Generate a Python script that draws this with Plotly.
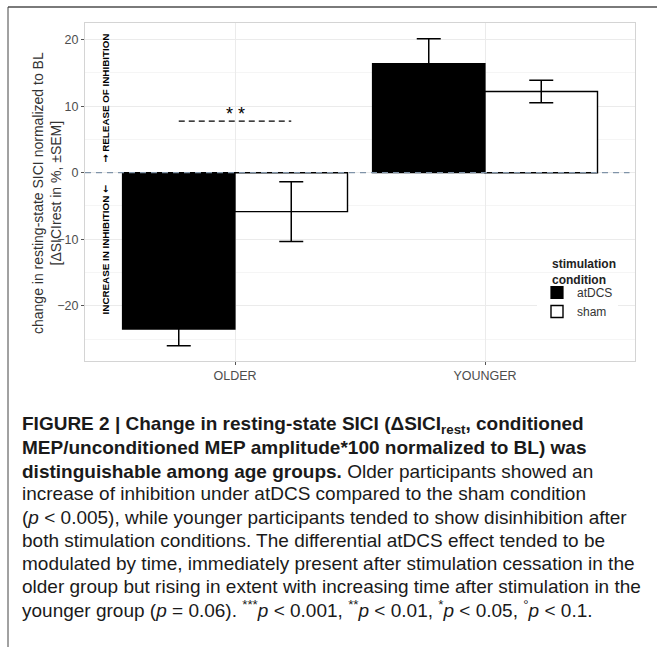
import plotly.graph_objects as go

# ---- data ----
groups = ["OLDER", "YOUNGER"]
conditions = ["atDCS", "sham"]
atdcs_mean = [-23.5, 16.4]
atdcs_sem = [2.5, 3.75]
sham_mean = [-5.85, 12.2]
sham_sem = [4.5, 1.7]
sig_label = "* *"
sig_y = 7.75
y_ticks = [-20, -10, 0, 10, 20]

W, H = 657, 647
L, R, T, B = 85, 22, 23, 286
PW = W - L - R
PH = H - T - B

def px_x(px):
    return (px - L) / PW

def px_y(py):
    return (H - B - py) / PH

FONT = "Liberation Sans, Arial, sans-serif"
ARROW = '<span style="font-family:DejaVu Sans">{}</span>'

fig = go.Figure()
fig.add_trace(go.Bar(
    x=groups, y=atdcs_mean, name=conditions[0],
    marker=dict(color="black", line=dict(color="black", width=1.2)),
    error_y=dict(type="data", array=atdcs_sem, visible=True, color="black", thickness=1.5, width=12),
))
fig.add_trace(go.Bar(
    x=groups, y=sham_mean, name=conditions[1],
    marker=dict(color="white", line=dict(color="black", width=1.4)),
    error_y=dict(type="data", array=sham_sem, visible=True, color="black", thickness=1.5, width=12),
))

fig.update_layout(
    width=W, height=H,
    margin=dict(l=L, r=R, t=T, b=B, pad=0),
    paper_bgcolor="white", plot_bgcolor="white",
    barmode="group", bargap=0.1, bargroupgap=0,
    font=dict(family=FONT, color="#333333"),
    showlegend=True,
    legend=dict(
        x=px_x(537), y=px_y(278), xanchor="left", yanchor="top",
        bgcolor="white", borderwidth=0, itemwidth=30,
        font=dict(size=12, color="#333"),
        tracegroupgap=0,
    ),
)

fig.update_xaxes(
    range=[-0.6, 1.6], showgrid=True, gridcolor="#ebebeb", gridwidth=1,
    showline=True, mirror=True, linecolor="#d4d4d4", linewidth=1,
    ticks="outside", ticklen=3, tickcolor="#555", tickfont=dict(size=12.5, color="#4d4d4d"),
    zeroline=False,
)
fig.update_yaxes(
    range=[-28.3, 22.5], tickvals=y_ticks, showgrid=True, gridcolor="#ebebeb", gridwidth=1,
    minor=dict(dtick=5, tick0=0, showgrid=True, gridcolor="#f5f5f5", gridwidth=0.6),
    showline=True, mirror=True, linecolor="#d4d4d4", linewidth=1,
    ticks="outside", ticklen=3, tickcolor="#555", tickfont=dict(size=12.5, color="#4d4d4d"),
    zeroline=False,
)

# y axis title (two lines)
fig.add_annotation(xref="paper", yref="paper", x=px_x(47), y=px_y(193), xanchor="center", yanchor="middle",
                   text="change in resting-state SICI normalized to BL<br>[ΔSICIrest in %, ±SEM]",
                   textangle=-90, showarrow=False, font=dict(size=14, color="#333", family=FONT))

# zero reference line
fig.add_shape(type="line", xref="paper", yref="y", x0=0, x1=0.99, y0=0, y1=0,
              line=dict(color="#7f93a8", width=1.3, dash="6px,5px"), layer="above")
# significance line
fig.add_shape(type="line", xref="x", yref="y", x0=-0.225, x1=0.225, y0=sig_y, y1=sig_y,
              line=dict(color="black", width=1.2, dash="6px,4px"), layer="above")
fig.add_annotation(x=0, y=sig_y + 1.0, xref="x", yref="y", text=sig_label, showarrow=False,
                   font=dict(size=18, color="black", family=FONT), yanchor="middle")

# rotated direction labels
fig.add_annotation(xref="paper", yref="y", x=px_x(98), y=11.2,
                   text="<b>" + ARROW.format("→") + " RELEASE OF INHIBITION</b>",
                   textangle=-90, showarrow=False, font=dict(size=9.8, color="black", family=FONT))
fig.add_annotation(xref="paper", yref="y", x=px_x(98), y=-11.6,
                   text="<b>INCREASE IN INHIBITION " + ARROW.format("←") + "</b>",
                   textangle=-90, showarrow=False, font=dict(size=9.8, color="black", family=FONT))

# legend title
fig.add_annotation(xref="paper", yref="paper", x=px_x(550), y=px_y(255), xanchor="left", yanchor="top",
                   text="<b>stimulation<br>condition</b>", showarrow=False, align="left",
                   font=dict(size=12, color="#222", family=FONT))

# frame lines
fig.add_shape(type="line", xref="paper", yref="paper", x0=px_x(8), x1=px_x(657), y0=px_y(7), y1=px_y(7),
              line=dict(color="#7a7a7a", width=2))
fig.add_shape(type="line", xref="paper", yref="paper", x0=px_x(8), x1=px_x(8), y0=px_y(7), y1=px_y(647),
              line=dict(color="#444", width=1))

# caption
caption = [
    "<b>FIGURE 2 | Change in resting-state SICI (ΔSICI<sub>rest</sub>, conditioned</b>",
    "<b>MEP/unconditioned MEP amplitude*100 normalized to BL) was</b>",
    "<b>distinguishable among age groups.</b> Older participants showed an",
    "increase of inhibition under atDCS compared to the sham condition",
    "(<i>p</i> &lt; 0.005), while younger participants tended to show disinhibition after",
    "both stimulation conditions. The differential atDCS effect tended to be",
    "modulated by time, immediately present after stimulation cessation in the",
    "older group but rising in extent with increasing time after stimulation in the",
    "younger group (<i>p</i> = 0.06). <sup>***</sup><i>p</i> &lt; 0.001, <sup>**</sup><i>p</i> &lt; 0.01, <sup>*</sup><i>p</i> &lt; 0.05, <sup>°</sup><i>p</i> &lt; 0.1.",
]
for i, line in enumerate(caption):
    fig.add_annotation(xref="paper", yref="paper", x=px_x(20), y=px_y(425 + i * 23),
                       xanchor="left", yanchor="middle", text=line, showarrow=False, align="left",
                       font=dict(size=19, color="#1a1a1a", family=FONT))

fig.write_html("out.html")
